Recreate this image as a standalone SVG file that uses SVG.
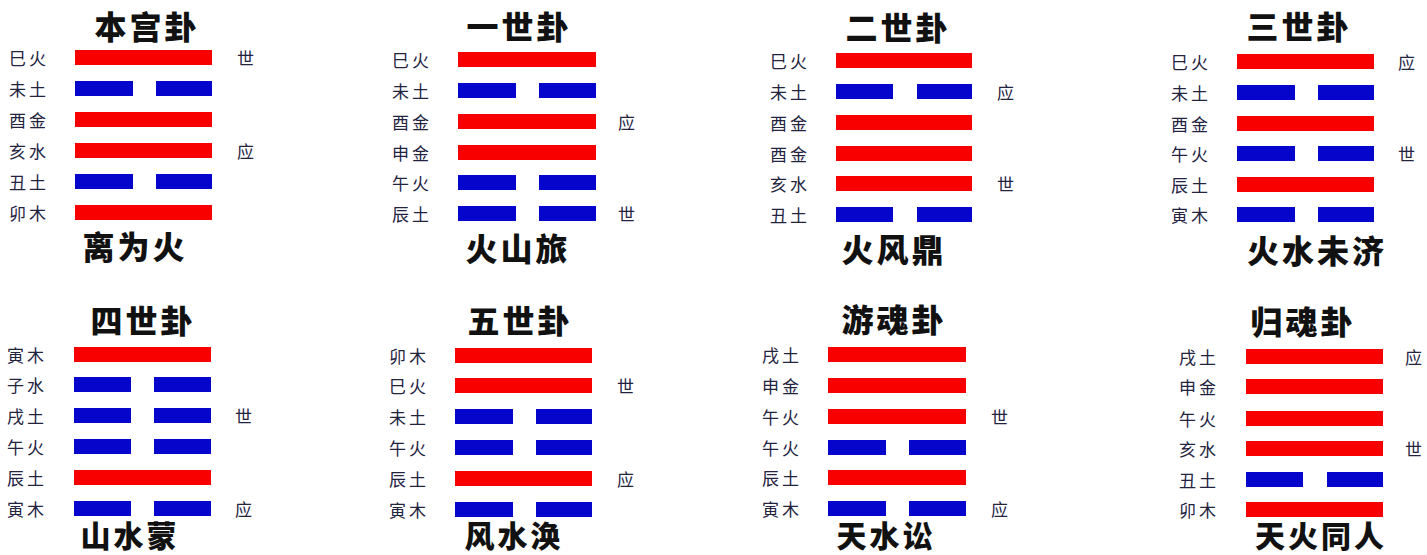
<svg xmlns="http://www.w3.org/2000/svg" width="1427" height="555" viewBox="0 0 1427 555">
<style>
.yang{fill:#f80000}
.yin{fill:#0505cc}
.lbl{font-family:"Noto Sans CJK SC","Noto Sans CJK JP",sans-serif;font-size:17px;fill:#23233f;letter-spacing:3px;dominant-baseline:central}
.mk{font-family:"Noto Sans CJK SC","Noto Sans CJK JP",sans-serif;font-size:17px;fill:#23233f;dominant-baseline:central}
.title{font-family:"Noto Sans CJK SC","Noto Sans CJK JP",sans-serif;font-size:32px;font-weight:900;fill:#111;letter-spacing:3px;text-anchor:middle;dominant-baseline:central}
.name{font-family:"Noto Sans CJK SC","Noto Sans CJK JP",sans-serif;font-size:32px;font-weight:900;fill:#111;letter-spacing:3px;text-anchor:middle;dominant-baseline:central}
.nameb{font-family:"Noto Sans CJK SC","Noto Sans CJK JP",sans-serif;font-size:30px;font-weight:900;fill:#111;letter-spacing:3px;text-anchor:middle;dominant-baseline:central}
</style>
<rect width="1427" height="555" fill="#fff"/>

<g id="p1">
<text class="title" x="147" y="25">本宫卦</text>
<text class="lbl" x="9" y="57.5">巳火</text><rect class="yang" x="75" y="50" width="137" height="15"/><text class="mk" x="237" y="57.5">世</text>
<text class="lbl" x="9" y="88.5">未土</text><rect class="yin" x="75" y="81" width="58" height="15"/><rect class="yin" x="156" y="81" width="56" height="15"/>
<text class="lbl" x="9" y="119.5">酉金</text><rect class="yang" x="75" y="112" width="137" height="15"/>
<text class="lbl" x="9" y="150.5">亥水</text><rect class="yang" x="75" y="143" width="137" height="15"/><text class="mk" x="237" y="150.5">应</text>
<text class="lbl" x="9" y="181.5">丑土</text><rect class="yin" x="75" y="174" width="58" height="15"/><rect class="yin" x="156" y="174" width="56" height="15"/>
<text class="lbl" x="9" y="212.5">卯木</text><rect class="yang" x="75" y="205" width="137" height="15"/>
<text class="name" x="135" y="245">离为火</text>
</g>

<g id="p2">
<text class="title" x="519" y="25">一世卦</text>
<text class="lbl" x="392" y="59.5">巳火</text><rect class="yang" x="458" y="52" width="138" height="15"/>
<text class="lbl" x="392" y="90.5">未土</text><rect class="yin" x="458" y="83" width="58" height="15"/><rect class="yin" x="539" y="83" width="57" height="15"/>
<text class="lbl" x="392" y="121.5">酉金</text><rect class="yang" x="458" y="114" width="138" height="15"/><text class="mk" x="618" y="121.5">应</text>
<text class="lbl" x="392" y="152.5">申金</text><rect class="yang" x="458" y="145" width="138" height="15"/>
<text class="lbl" x="392" y="182.5">午火</text><rect class="yin" x="458" y="175" width="58" height="15"/><rect class="yin" x="539" y="175" width="57" height="15"/>
<text class="lbl" x="392" y="213.5">辰土</text><rect class="yin" x="458" y="206" width="58" height="15"/><rect class="yin" x="539" y="206" width="57" height="15"/><text class="mk" x="618" y="213.5">世</text>
<text class="name" x="518" y="247">火山旅</text>
</g>

<g id="p3">
<text class="title" x="898" y="26">二世卦</text>
<text class="lbl" x="770" y="60.5">巳火</text><rect class="yang" x="836" y="53" width="136" height="15"/>
<text class="lbl" x="770" y="91.5">未土</text><rect class="yin" x="836" y="84" width="57" height="15"/><rect class="yin" x="917" y="84" width="55" height="15"/><text class="mk" x="997" y="91.5">应</text>
<text class="lbl" x="770" y="122.5">酉金</text><rect class="yang" x="836" y="115" width="136" height="15"/>
<text class="lbl" x="770" y="153.5">酉金</text><rect class="yang" x="836" y="146" width="136" height="15"/>
<text class="lbl" x="770" y="183.5">亥水</text><rect class="yang" x="836" y="176" width="136" height="15"/><text class="mk" x="997" y="183.5">世</text>
<text class="lbl" x="770" y="214.5">丑土</text><rect class="yin" x="836" y="207" width="57" height="15"/><rect class="yin" x="917" y="207" width="55" height="15"/>
<text class="name" x="894" y="248">火风鼎</text>
</g>

<g id="p4">
<text class="title" x="1299" y="25">三世卦</text>
<text class="lbl" x="1171" y="61.5">巳火</text><rect class="yang" x="1237" y="54" width="137" height="15"/><text class="mk" x="1398" y="61.5">应</text>
<text class="lbl" x="1171" y="92.5">未土</text><rect class="yin" x="1237" y="85" width="58" height="15"/><rect class="yin" x="1318" y="85" width="56" height="15"/>
<text class="lbl" x="1171" y="123.5">酉金</text><rect class="yang" x="1237" y="116" width="137" height="15"/>
<text class="lbl" x="1171" y="153.5">午火</text><rect class="yin" x="1237" y="146" width="58" height="15"/><rect class="yin" x="1318" y="146" width="56" height="15"/><text class="mk" x="1398" y="153.5">世</text>
<text class="lbl" x="1171" y="184.5">辰土</text><rect class="yang" x="1237" y="177" width="137" height="15"/>
<text class="lbl" x="1171" y="214.5">寅木</text><rect class="yin" x="1237" y="207" width="58" height="15"/><rect class="yin" x="1318" y="207" width="56" height="15"/>
<text class="name" x="1317" y="249">火水未济</text>
</g>

<g id="p5">
<text class="title" x="143" y="319">四世卦</text>
<text class="lbl" x="7" y="354.5">寅木</text><rect class="yang" x="74" y="347" width="137" height="15"/>
<text class="lbl" x="7" y="384.5">子水</text><rect class="yin" x="74" y="377" width="57" height="15"/><rect class="yin" x="154" y="377" width="57" height="15"/>
<text class="lbl" x="7" y="415.5">戌土</text><rect class="yin" x="74" y="408" width="57" height="15"/><rect class="yin" x="154" y="408" width="57" height="15"/><text class="mk" x="235" y="415.5">世</text>
<text class="lbl" x="7" y="446.5">午火</text><rect class="yin" x="74" y="439" width="57" height="15"/><rect class="yin" x="154" y="439" width="57" height="15"/>
<text class="lbl" x="7" y="477.5">辰土</text><rect class="yang" x="74" y="470" width="137" height="15"/>
<text class="lbl" x="7" y="508.5">寅木</text><rect class="yin" x="74" y="501" width="57" height="15"/><rect class="yin" x="154" y="501" width="57" height="15"/><text class="mk" x="235" y="508.5">应</text>
<text class="nameb" x="130" y="534">山水蒙</text>
</g>

<g id="p6">
<text class="title" x="520" y="319">五世卦</text>
<text class="lbl" x="389" y="355.5">卯木</text><rect class="yang" x="455" y="348" width="137" height="15"/>
<text class="lbl" x="389" y="385.5">巳火</text><rect class="yang" x="455" y="378" width="137" height="15"/><text class="mk" x="617" y="385.5">世</text>
<text class="lbl" x="389" y="416.5">未土</text><rect class="yin" x="455" y="409" width="58" height="15"/><rect class="yin" x="536" y="409" width="56" height="15"/>
<text class="lbl" x="389" y="447.5">午火</text><rect class="yin" x="455" y="440" width="58" height="15"/><rect class="yin" x="536" y="440" width="56" height="15"/>
<text class="lbl" x="389" y="478.5">辰土</text><rect class="yang" x="455" y="471" width="137" height="15"/><text class="mk" x="617" y="478.5">应</text>
<text class="lbl" x="389" y="509.5">寅木</text><rect class="yin" x="455" y="502" width="58" height="15"/><rect class="yin" x="536" y="502" width="56" height="15"/>
<text class="nameb" x="514" y="534">风水涣</text>
</g>

<g id="p7">
<text class="title" x="894" y="318">游魂卦</text>
<text class="lbl" x="762" y="354.5">戌土</text><rect class="yang" x="828" y="347" width="138" height="15"/>
<text class="lbl" x="762" y="385.5">申金</text><rect class="yang" x="828" y="378" width="138" height="15"/>
<text class="lbl" x="762" y="416.5">午火</text><rect class="yang" x="828" y="409" width="138" height="15"/><text class="mk" x="991" y="416.5">世</text>
<text class="lbl" x="762" y="447.5">午火</text><rect class="yin" x="828" y="440" width="58" height="15"/><rect class="yin" x="909" y="440" width="57" height="15"/>
<text class="lbl" x="762" y="477.5">辰土</text><rect class="yang" x="828" y="470" width="138" height="15"/>
<text class="lbl" x="762" y="508.5">寅木</text><rect class="yin" x="828" y="501" width="58" height="15"/><rect class="yin" x="909" y="501" width="57" height="15"/><text class="mk" x="991" y="508.5">应</text>
<text class="nameb" x="886" y="534">天水讼</text>
</g>

<g id="p8">
<text class="title" x="1303" y="320">归魂卦</text>
<text class="lbl" x="1179" y="356.5">戌土</text><rect class="yang" x="1246" y="349" width="137" height="15"/><text class="mk" x="1405" y="356.5">应</text>
<text class="lbl" x="1179" y="386.5">申金</text><rect class="yang" x="1246" y="379" width="137" height="15"/>
<text class="lbl" x="1179" y="418.5">午火</text><rect class="yang" x="1246" y="411" width="137" height="15"/>
<text class="lbl" x="1179" y="448.5">亥水</text><rect class="yang" x="1246" y="441" width="137" height="15"/><text class="mk" x="1405" y="448.5">世</text>
<text class="lbl" x="1179" y="479.5">丑土</text><rect class="yin" x="1246" y="472" width="57" height="15"/><rect class="yin" x="1327" y="472" width="56" height="15"/>
<text class="lbl" x="1179" y="509.5">卯木</text><rect class="yang" x="1246" y="502" width="137" height="15"/>
<text class="nameb" x="1321" y="534">天火同人</text>
</g>
<g id="connectors"/>
</svg>
